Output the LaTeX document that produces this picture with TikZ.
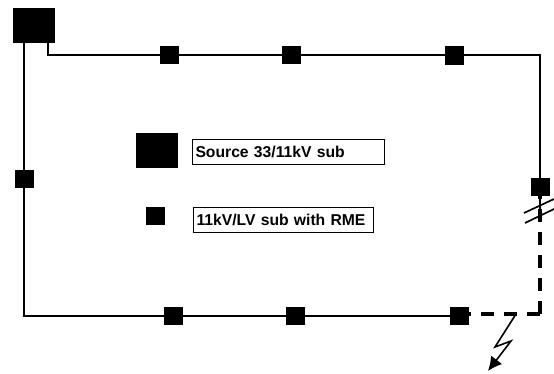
\documentclass[tikz,border=0pt]{standalone}
\usepackage{fontspec}
\setmainfont{Liberation Sans}
\usetikzlibrary{arrows.meta}

\begin{document}
\begin{tikzpicture}[x=1pt, y=-1pt, >=latex, font=\bfseries\fontsize{11}{13}\selectfont,
  subbox/.style={draw, fill=black, inner sep=0pt, minimum width=18pt, minimum height=17pt},
  sourcebox/.style={draw, fill=black, inner sep=0pt, minimum width=41pt, minimum height=34pt},
  keybox/.style={draw, line width=1pt, inner ysep=0pt, inner xsep=3pt, anchor=west, align=left, font=\bfseries\fontsize{15.7}{17}\selectfont},
  feeder/.style={line width=2pt},
  openfeeder/.style={line width=3.2pt, dash pattern=on 13pt off 10pt}]
\useasboundingbox (0,0) rectangle (554,373);

%--------------------
% Substations
%--------------------
\node[sourcebox] (src) at (33.5,25) {};
\node[subbox] (top1) at (169.5,55) {};
\node[subbox] (top2) at (291,55) {};
\node[subbox, minimum height=18pt] (top3) at (454.5,55.5) {};
\node[subbox] (left) at (24,179) {};
\node[subbox] (right) at (540,187) {};
\node[subbox] (bot1) at (173,316) {};
\node[subbox] (bot2) at (295,316) {};
\node[subbox] (bot3) at (459.5,316) {};

% Feeder corners
\coordinate (srcdrop) at (48,42);
\coordinate (topleft) at (48,55);
\coordinate (topright) at (540,55);
\coordinate (srcleg) at (24,42);
\coordinate (botleft) at (24,316);
\coordinate (cut) at (540,214);
\coordinate (botright) at (540,314);
\coordinate (dashstart) at (469,314);

%--------------------
% Closed feeder
%--------------------
\draw[feeder] (srcdrop) -- (topleft) -- (top1) -- (top2) -- (top2 -| top3) -- (topright) -- (right) -- (cut);
\draw[feeder] (srcleg) -- (left) -- (botleft) -- (bot1) -- (bot2) -- (bot3);

% Open section
\draw[openfeeder] (botright) -- (right.south);
\draw[openfeeder] (botright) -- (dashstart);

% Cut marks
\coordinate (cut1a) at (524,213);
\coordinate (cut1b) at (554,199);
\coordinate (cut2a) at (525,223);
\coordinate (cut2b) at (554,209);
\draw[line width=1.7pt] (cut1a) -- (cut1b);
\draw[line width=1.7pt] (cut2a) -- (cut2b);

%--------------------
% Fault arrow
%--------------------
\coordinate (bolt0) at (516,314);
\coordinate (bolt1) at (495,347);
\coordinate (bolt2) at (511,341);
\coordinate (bolt3) at (488,371);
\draw[line width=1.6pt, -{Latex[length=14pt,width=14pt]}] (bolt0) -- (bolt1) -- (bolt2) -- (bolt3);

%--------------------
% Key
%--------------------
\node[sourcebox] (keysrc) at (157,150) {};
\node[subbox] (keysub) at (155.5,215.5) {};
\node[keybox, minimum width=192pt, minimum height=25pt, text width=186pt] (srctxt) at (192,151.5) {Source 33/11kV sub};
\node[keybox, minimum width=180pt, minimum height=25pt, text width=174pt] (subtxt) at (193,219.5) {11kV/LV sub with RME};

\end{tikzpicture}
\end{document}
